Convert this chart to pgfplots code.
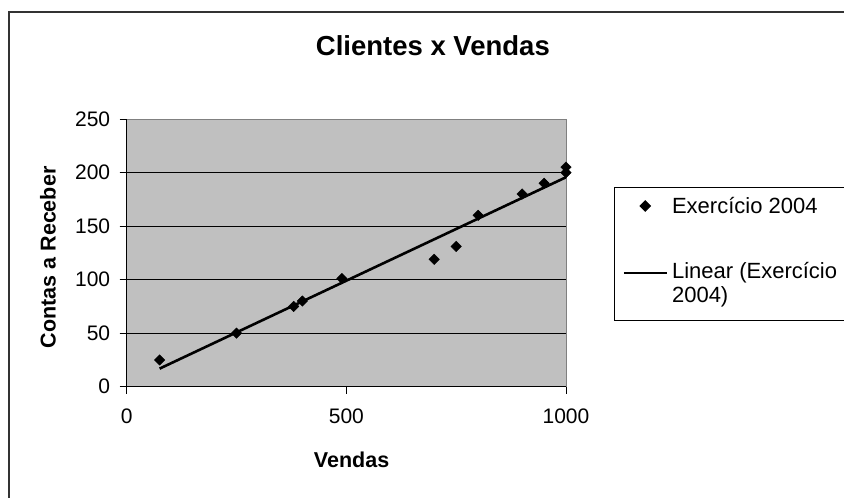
\documentclass[border=0pt]{standalone}
\usepackage{pgfplots}
\pgfplotsset{compat=1.18}
\usepackage{fontspec}
\setmainfont{Liberation Sans}
\definecolor{plotbg}{HTML}{C0C0C0}
\definecolor{framegray}{HTML}{808080}
\pgfplotsset{
  scatterleg/.style={legend image code/.code={\draw[mark repeat=2,mark phase=2,#1] plot coordinates {(0pt,0pt) (21.5pt,0pt) (43pt,0pt)};}},
  lineleg/.style={legend image code/.code={\draw[#1] (0pt,13pt) -- (43pt,13pt);}},
}
\begin{document}
\begin{tikzpicture}[x=1pt,y=1pt]
\draw[line width=1.4pt, black!80] (9,-5) -- (9,486) -- (850,486);
\begin{axis}[
  at={(126.7pt,111.3pt)}, anchor=south west,
  scale only axis, width=439.3pt, height=267.7pt,
  xmin=0, xmax=1000, ymin=0, ymax=250,
  xtick={0,500,1000}, ytick={0,50,...,250},
  axis x line*=bottom, axis y line*=left,
  axis line style={black, line width=0.9pt, -},
  axis background/.style={fill=plotbg, draw=framegray, line width=0.9pt},
  extra y ticks={50,100,150,200}, extra y tick labels={},
  extra y tick style={grid=major, major grid style={black, line width=0.7pt}},
  tick align=outside, major tick length=7pt,
  tick style={black, line width=0.9pt},
  /pgf/number format/assume math mode=true,
  /pgf/number format/1000 sep={},
  ticklabel style={font=\fontsize{21}{24}\selectfont},
  yticklabel style={xshift=-6pt},
  xticklabel style={yshift=-12pt},
  title={Clientes x Vendas},
  title style={font=\fontsize{27.5}{30}\selectfont\bfseries, at={(axis description cs:0.697,1.214)}, anchor=base},
  xlabel={Vendas},
  ylabel={Contas a Receber},
  label style={font=\fontsize{21.5}{25}\selectfont\bfseries},
  xlabel style={at={(axis description cs:0.512,-0.273)}, anchor=center},
  ylabel style={at={(axis description cs:-0.179,0.483)}, anchor=center},
  legend cell align=left,
  legend style={at={(axis description cs:1.1093,0.745)}, anchor=north west,
    draw=black, line width=0.9pt, fill=white,
    font=\fontsize{22}{24}\selectfont,
    inner xsep=8pt, inner ysep=8pt, row sep=44pt,
    nodes={inner xsep=4pt, text depth=, text height=}},
]
\addplot[only marks, mark=square*, mark size=3.7pt, mark options={rotate=45, fill=black, draw=black}, scatterleg]
  coordinates {
  (75,25) (250,50) (380,75) (400,80) (490,101) (700,119)
  (750,131) (800,160) (900,180) (950,190) (1000,200) (1000,205)
  };
\addlegendentry{\makebox[200pt][l]{Exercício 2004}}
\addplot[black, line width=2.6pt, lineleg]
  coordinates {(75,16.9) (1000,195.6)};
\addlegendentry{\begin{tabular}[t]{@{}l@{}}Linear (Exercício\\2004)\end{tabular}}
\end{axis}
\pgfresetboundingbox
\path[use as bounding box] (0,0) rectangle (844,498);
\end{tikzpicture}
\end{document}
